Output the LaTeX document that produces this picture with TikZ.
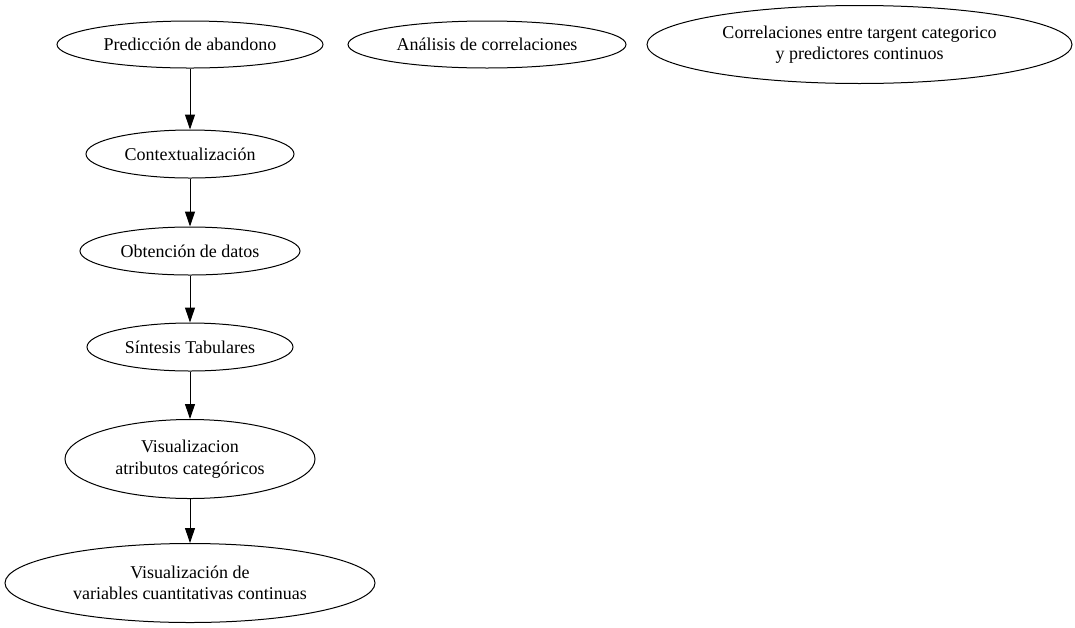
\documentclass[tikz,border=0pt]{standalone}
\usepackage{fontspec}
\setmainfont{Liberation Serif}
\usetikzlibrary{matrix, arrows.meta, positioning, shapes.geometric}

\begin{document}
\begin{tikzpicture}[x=1pt, y=1pt, line width=1pt,
  elli/.style={draw, ellipse, anchor=center, inner sep=2pt, align=center, font=\rmfamily\fontsize{18}{21.5}\selectfont},
  >={Triangle[length=15pt, width=10pt]}]
\useasboundingbox (0,0) rectangle (1075,-627);
\matrix (m) [matrix of nodes, row sep = 45pt, anchor=north, inner sep=0pt] at (190,-20) {
\node[elli, minimum width=266pt, minimum height=47pt](n1){Predicción de abandono}; \\[16pt]
\node[elli, minimum width=208pt, minimum height=48pt](n2){Contextualización}; \\[3pt]
\node[elli, minimum width=220pt, minimum height=48pt](n3){Obtención de datos}; \\[2pt]
\node[elli, minimum width=206pt, minimum height=48pt](n4){Síntesis Tabulares}; \\[2.5pt]
\node[elli, minimum width=250pt, minimum height=79pt](n5){Visualizacion\\atributos categóricos}; \\[-1pt]
\node[elli, minimum width=370pt, minimum height=79pt](n6){Visualización de\\variables cuantitativas continuas}; \\
};
\node[elli, minimum width=278pt, minimum height=47pt, right=24pt of n1](c1){Análisis de correlaciones};
\node[elli, minimum width=425pt, minimum height=78pt, right=20pt of c1](c2){Correlaciones entre targent categorico\\y predictores continuos};
\draw[->] (n1) -- (n2);
\draw[->] (n2) -- (n3);
\draw[->] (n3) -- (n4);
\draw[->] (n4) -- (n5);
\draw[->] (n5) -- (n6);
\end{tikzpicture}
\end{document}
